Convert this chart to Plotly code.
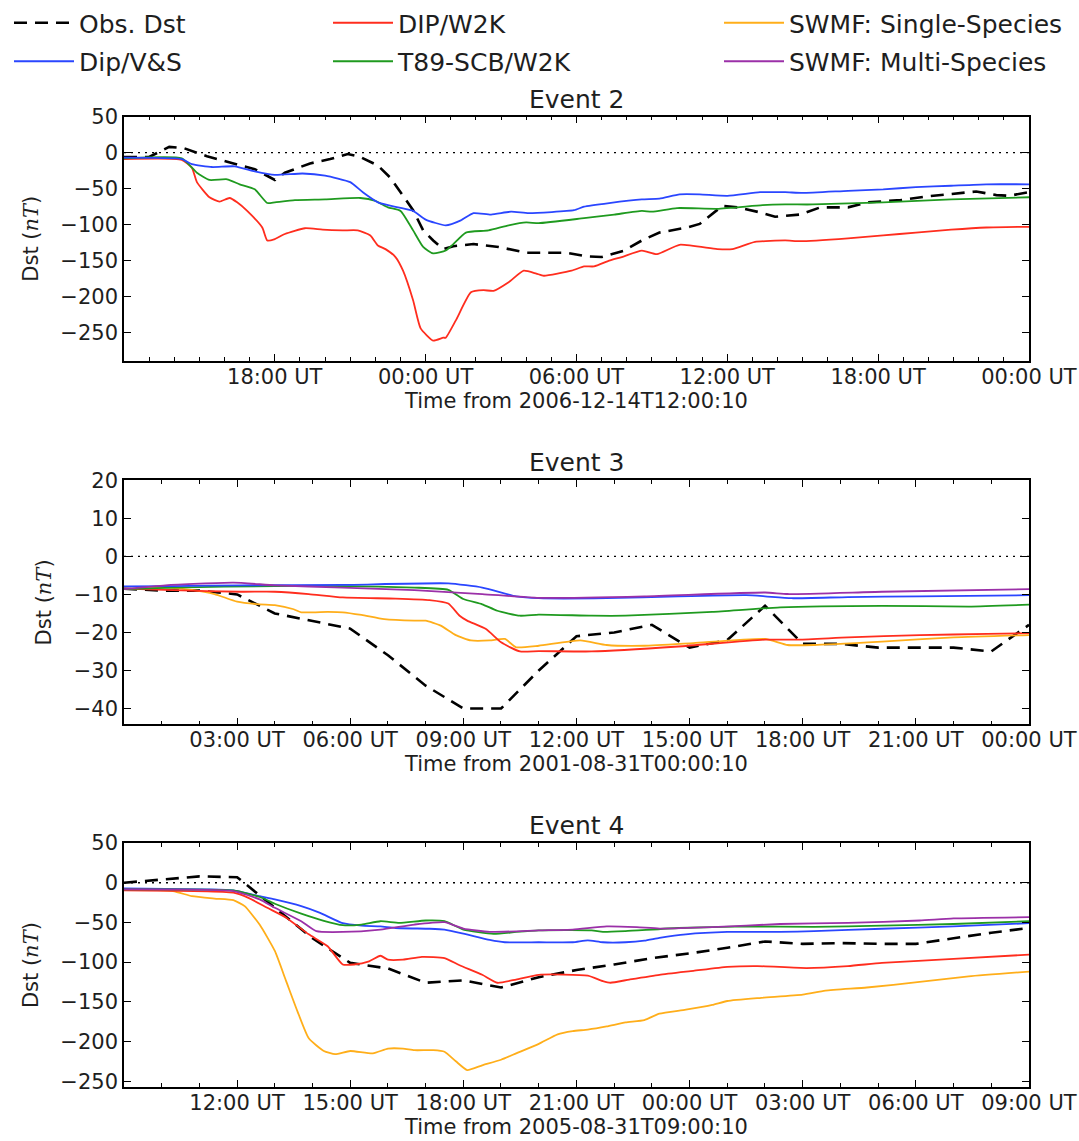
import pandas as pd
import plotly.graph_objects as go
from plotly.subplots import make_subplots

# ---------------- data (hours since event start, Dst in nT) ----------------
E2_START = "2006-12-14 12:00:10"
E3_START = "2001-08-31 00:00:10"
E4_START = "2005-08-31 09:00:10"
SPAN_HOURS = [36, 24, 24]
EVENT_TITLES = ["Event 2", "Event 3", "Event 4"]
X_TITLES = ["Time from 2006-12-14T12:00:10", "Time from 2001-08-31T00:00:10",
            "Time from 2005-08-31T09:00:10"]
Y_RANGES = [[-289, 50], [-44.2, 20], [-257.6, 50]]
Y_DTICKS = [50, 10, 50]
X_DTICKS_H = [6, 3, 3]

# Event 2
e2_obs_h = [0, 1, 1.8, 2.4, 3.3, 4.4, 5.2, 6.0, 6.4, 7.4, 8.2, 8.9, 9.4, 10.1, 10.6, 11.1, 11.5, 11.9,
            12.3, 12.7, 13.1, 13.9, 14.9, 16.0, 17.6, 18.4, 19.0, 19.9, 20.6, 21.3, 22.4, 22.9, 23.3,
            23.8, 24.4, 25.3, 25.9, 26.9, 27.7, 28.8, 29.6, 30.9, 31.9, 32.9, 33.9, 34.7, 35.2, 36]
e2_obs_v = [-6, -6, 8, 6, -5, -15, -23, -38, -28, -15, -9, -2, -6, -18, -35, -60, -80, -108,
            -122, -134, -130, -127, -131, -139, -139, -144, -145, -136, -122, -111, -104, -99, -88,
            -74, -76, -83, -89, -86, -76, -76, -69, -66, -61, -57, -54, -59, -60, -55]
e2_vs_h = [0, 2.3, 2.7, 3.5, 4.4, 5.2, 6.0, 7.1, 8.0, 9.0, 9.5, 10.1, 10.9, 11.5, 12.0, 12.8, 13.4,
           13.9, 14.6, 15.4, 16.1, 17.9, 18.3, 19.3, 20.6, 21.3, 22.1, 22.9, 24.0, 25.3, 26.3, 27.0,
           28.8, 30.2, 31.5, 32.9, 34.3, 36]
e2_vs_v = [-7, -9, -16, -20, -19, -26, -31, -29, -32, -41, -55, -69, -76, -81, -93, -101, -94,
           -84, -86, -82, -84, -80, -75, -70, -65, -64, -58, -58, -60, -55, -55, -56,
           -53, -51, -48, -46, -44, -44]
e2_t89_h = [0, 2.3, 2.9, 3.4, 4.1, 4.6, 5.2, 5.7, 6.0, 6.8, 8.0, 9.4, 10.0, 10.5, 11.0, 11.5, 11.9,
            12.3, 12.8, 13.1, 13.6, 14.5, 15.3, 16.0, 16.5, 18.3, 19.5, 20.6, 21.0, 22.0, 23.6,
            25.4, 26.3, 27.4, 30.2, 32.9, 36]
e2_t89_v = [-8, -8, -28, -38, -37, -44, -51, -70, -69, -66, -65, -63, -67, -76, -81, -108, -131,
            -140, -136, -127, -111, -108, -101, -97, -98, -91, -86, -81, -82, -77, -78,
            -73, -72, -72, -69, -65, -62]
e2_w2k_h = [0, 2.3, 2.7, 2.9, 3.4, 3.8, 4.2, 4.5, 4.9, 5.5, 5.7, 6.0, 6.4, 7.2, 7.9, 8.7, 9.3, 9.8,
            10.1, 10.4, 10.8, 11.1, 11.5, 11.8, 12.3, 12.7, 12.8, 13.2, 13.8, 14.3, 14.7, 15.3,
            15.9, 16.4, 16.7, 17.8, 18.3, 18.7, 19.3, 19.8, 20.6, 21.2, 22.1, 23.6, 24.2, 25.1,
            26.3, 26.9, 28.8, 30.2, 31.5, 32.9, 34.3, 36]
e2_w2k_v = [-9, -10, -21, -41, -62, -68, -63, -69, -81, -104, -122, -120, -113, -105, -107, -108,
            -108, -115, -129, -134, -145, -164, -205, -244, -261, -257, -257, -233, -194, -191,
            -192, -180, -164, -168, -171, -164, -158, -158, -150, -145, -136, -141, -128, -134,
            -134, -124, -122, -123, -119, -115, -111, -107, -104, -103]

# Event 3
e3_obs_h = list(range(25))
e3_obs_v = [-8.5, -9, -9, -10, -15, -17, -19, -26, -34, -40, -40, -30, -21, -20, -18, -24, -22,
            -13, -23, -23, -24, -24, -24, -25, -18]
e3_vs_h = [0, 1.3, 3.1, 5.8, 8.6, 9.5, 10.4, 11, 12.8, 14.7, 16.5, 17, 17.7, 19.2, 21.1, 24]
e3_vs_v = [-7.9, -7.8, -7.6, -7.5, -7.1, -8.2, -10.5, -11, -11, -10.5, -10.2, -10.5, -11, -10.7,
           -10.5, -10.2]
e3_multi_h = [0, 1.1, 2.9, 4, 5.8, 7.7, 9.5, 11, 13.8, 17, 17.6, 20.1, 24]
e3_multi_v = [-8.6, -7.6, -6.9, -7.6, -8.2, -8.9, -9.9, -10.9, -10.5, -9.5, -9.9, -9.3, -8.6]
e3_t89_h = [0, 1.3, 4, 5.8, 7.7, 8.6, 9.0, 9.5, 9.9, 10.5, 11, 12.4, 13.3, 15.6, 17.4, 20.1, 22.4, 24]
e3_t89_v = [-8.6, -8.2, -7.8, -7.8, -8.2, -8.8, -11.2, -12.6, -14.3, -15.6, -15.3, -15.6, -15.6,
            -14.6, -13.4, -13, -13.2, -12.7]
e3_w2k_h = [0, 1.3, 3.1, 4, 4.9, 5.8, 7.2, 8.1, 8.6, 8.9, 9.1, 9.6, 10, 10.5, 11, 12.4, 14.7, 17,
            17.9, 19.2, 21.1, 22.9, 24]
e3_w2k_v = [-8.5, -8.9, -9.3, -9.3, -9.9, -10.8, -11.1, -11.5, -12.4, -15.6, -16.9, -19.1, -22.6,
            -25, -24.9, -25, -23.7, -21.9, -21.9, -21.3, -20.7, -20.4, -20.2]
e3_single_h = [0, 1.1, 1.8, 2.4, 3, 3.6, 4, 4.5, 4.7, 5.4, 5.8, 6.3, 6.9, 7.7, 8, 8.4, 8.8, 9.2,
               9.7, 10.1, 10.4, 11, 12.1, 12.8, 13.8, 15.1, 17, 17.6, 18.3, 20.1, 22, 24]
e3_single_v = [-8.6, -8.2, -8.8, -9.9, -11.9, -12.6, -12.8, -13.9, -14.7, -14.6, -14.7, -15.4,
               -16.5, -16.9, -16.9, -18.2, -20.7, -22.1, -22.1, -21.7, -23.9, -23.5, -22.1, -23.3,
               -23.5, -22.8, -21.7, -23.3, -23.3, -22.4, -21.3, -20.7]

# Event 4
e4_obs_h = list(range(25))
e4_obs_v = [0, 4, 8, 7, -32, -70, -101, -108, -126, -123, -132, -119, -110, -103, -95, -89, -82,
            -74, -77, -76, -77, -77, -70, -63, -57]
e4_vs_h = [0, 2.2, 2.9, 3.6, 4, 4.7, 5.2, 5.8, 6.3, 6.8, 7.2, 8.1, 8.5, 9, 9.7, 10.1, 11, 11.9,
           12.3, 12.7, 13.3, 13.8, 14.2, 14.9, 16, 17.4, 18.3, 20.1, 22, 24]
e4_vs_v = [-7, -8.4, -9.7, -17, -21, -29.5, -38, -51, -54, -55, -57, -58, -59, -64, -72, -75, -75,
           -75, -72.5, -75, -75, -73, -69.5, -65, -62, -62, -61, -58, -55, -51]
e4_t89_h = [0, 2.9, 3.6, 4, 4.7, 5.3, 5.8, 6.3, 6.8, 7.3, 8, 8.5, 9, 9.8, 10.4, 11, 12.4, 12.7,
            13.3, 14.7, 16.5, 18.3, 20.1, 22, 24]
e4_t89_v = [-8.4, -9.7, -18, -26.5, -39, -48, -53.5, -52.7, -48.5, -50.6, -47.6, -48.5, -59, -64.5,
            -62, -60, -60, -62, -61, -57, -55, -55.6, -54, -52, -48.5]
e4_multi_h = [0, 2.9, 3.6, 4, 4.7, 5.1, 5.8, 6.8, 7.7, 8.5, 9, 9.7, 11, 11.9, 12.8, 13.6, 14.2,
              15.6, 17.4, 19.2, 21.1, 22, 24]
e4_multi_v = [-8.4, -10.5, -21, -31.6, -48.5, -61, -62, -59, -52.7, -49.7, -57.7, -62, -60, -59,
              -55, -56, -57.7, -56, -52, -50.6, -47.6, -45, -43.4]
e4_w2k_h = [0, 2.9, 3.3, 3.8, 4.3, 4.9, 5.4, 5.8, 6.1, 6.5, 6.8, 7.0, 7.4, 7.9, 8.5, 8.9, 9.5, 9.9,
            10.4, 11, 12.3, 12.7, 12.9, 13.4, 14.2, 15.1, 16, 16.8, 18.1, 19.2, 20.1, 22, 24]
e4_w2k_v = [-9.7, -12.6, -19, -31.6, -44, -65, -80, -103, -103, -99, -92, -97, -97, -93.5, -95,
            -104, -116, -126, -122, -116, -117, -124, -126, -122, -116, -111, -106, -105, -107.5,
            -105, -101, -96, -90.6]
e4_single_h = [0, 1.3, 1.8, 2.4, 2.9, 3.2, 3.6, 4, 4.3, 4.6, 4.9, 5.3, 5.6, 6, 6.6, 7, 7.4, 7.7,
               8.2, 8.5, 8.8, 9.1, 9.5, 10, 10.4, 11, 11.5, 11.9, 12.3, 12.8, 13.3, 13.8, 14.2,
               14.9, 15.6, 16, 16.9, 18, 18.6, 19.7, 21.1, 22.4, 24]
e4_single_v = [-8.4, -10.5, -17, -20, -22, -29.5, -53, -86, -124, -162, -196, -212, -216, -212,
               -215, -209, -209, -211, -211, -213, -225, -236, -230, -223, -215, -203, -191, -187,
               -185, -181, -176, -173, -165, -160, -154, -149, -145, -141, -136, -132, -125, -118,
               -112]

# ---------------- styles ----------------
FONT = "DejaVu Sans"
TXT = "#1e1e1e"
SERIES = {
    # key: (name, color, legend, rank)
    "obs": ("Obs. Dst", "black", "legend", 1),
    "vs": ("Dip/V&S", "#2a46ff", "legend", 2),
    "w2k": ("DIP/W2K", "#ff2d1e", "legend2", 1),
    "t89": ("T89-SCB/W2K", "#1f9a1f", "legend2", 2),
    "single": ("SWMF: Single-Species", "#ffae1a", "legend3", 1),
    "multi": ("SWMF: Multi-Species", "#9b30a8", "legend3", 2),
}

events = [
    (E2_START, [("obs", e2_obs_h, e2_obs_v), ("w2k", e2_w2k_h, e2_w2k_v),
                ("t89", e2_t89_h, e2_t89_v), ("vs", e2_vs_h, e2_vs_v)]),
    (E3_START, [("obs", e3_obs_h, e3_obs_v), ("single", e3_single_h, e3_single_v),
                ("w2k", e3_w2k_h, e3_w2k_v), ("t89", e3_t89_h, e3_t89_v),
                ("vs", e3_vs_h, e3_vs_v), ("multi", e3_multi_h, e3_multi_v)]),
    (E4_START, [("obs", e4_obs_h, e4_obs_v), ("single", e4_single_h, e4_single_v),
                ("w2k", e4_w2k_h, e4_w2k_v), ("vs", e4_vs_h, e4_vs_v),
                ("t89", e4_t89_h, e4_t89_v), ("multi", e4_multi_h, e4_multi_v)]),
]

W, H = 1079, 1141
fig = make_subplots(rows=3, cols=1)

# plot-area pixel boxes (top, bottom)
panel_px = [(113, 358), (478, 723), (842, 1087)]
x_left, x_right = 124, 1029

shown = set()
for i, (start, series) in enumerate(events):
    row = i + 1
    t0 = pd.Timestamp(start)
    for key, hh, vv in series:
        name, color, leg, rank = SERIES[key]
        x = t0 + pd.to_timedelta(hh, unit="h")
        show = key not in shown
        shown.add(key)
        if key == "obs":
            line = dict(color=color, width=2.6, dash="13px,8px")
        else:
            line = dict(color=color, width=1.8, shape="spline", smoothing=0.5)
        fig.add_trace(go.Scatter(x=x, y=vv, mode="lines", name=name, line=line,
                                 legend=leg, legendrank=rank, legendgroup=key,
                                 showlegend=show), row=row, col=1)
    fig.add_hline(y=0, line=dict(color="black", width=1.4, dash="2px,5px"), row=row, col=1)

    top, bot = panel_px[i]
    t_end = t0 + pd.Timedelta(hours=SPAN_HOURS[i])
    # major ticks: every X_DTICKS_H hours strictly after the start instant
    step = pd.Timedelta(hours=X_DTICKS_H[i])
    first = t0.floor(f"{X_DTICKS_H[i]}h")
    if first <= t0:
        first += step
    tickvals = []
    t = first
    while t <= t_end:
        tickvals.append(t)
        t += step
    ticktext = [tv.strftime("%H:%M UT") for tv in tickvals]

    xa = "xaxis" if i == 0 else f"xaxis{row}"
    ya = "yaxis" if i == 0 else f"yaxis{row}"
    fig.layout[xa].update(
        domain=[x_left / W, x_right / W],
        range=[t0.strftime("%Y-%m-%d %H:%M:%S"), t_end.strftime("%Y-%m-%d %H:%M:%S")],
        tickmode="array", tickvals=[tv.strftime("%Y-%m-%d %H:%M:%S") for tv in tickvals],
        ticktext=ticktext,
        ticks="inside", ticklen=7, tickwidth=1, tickcolor="black",
        minor=dict(dtick=3600000, tick0="2000-01-01", ticks="inside", ticklen=4, tickwidth=1,
                   tickcolor="black"),
        showline=True, linecolor="black", linewidth=1.6, mirror="ticks",
        showgrid=False, zeroline=False, ticklabelstandoff=-4,
        tickfont=dict(family=FONT, size=21, color=TXT),
        title=dict(text=X_TITLES[i], font=dict(family=FONT, size=21, color=TXT), standoff=2),
        automargin=False,
    )
    fig.layout[ya].update(
        domain=[1 - bot / H, 1 - top / H],
        range=Y_RANGES[i], dtick=Y_DTICKS[i], tick0=0,
        ticks="inside", ticklen=7, tickwidth=1, tickcolor="black",
        showline=True, linecolor="black", linewidth=1.6, mirror="ticks",
        showgrid=False, zeroline=False,
        tickfont=dict(family=FONT, size=21, color=TXT),
        title=dict(text="Dst (<i style='font-family:DejaVu Serif'>nT</i>)",
                   font=dict(family=FONT, size=21, color=TXT), standoff=16),
        automargin=False,
    )
    fig.add_annotation(text=EVENT_TITLES[i], xref="paper", yref="paper",
                       x=(x_left + x_right) / 2 / W, y=1 - (top - 1) / H,
                       xanchor="center", yanchor="bottom", showarrow=False,
                       font=dict(family=FONT, size=25, color=TXT))

legend_common = dict(orientation="v", yanchor="top", y=1 + 4 / H, xanchor="left",
                     bgcolor="rgba(0,0,0,0)", itemwidth=60, tracegroupgap=3,
                     font=dict(family=FONT, size=25, color=TXT))
fig.update_layout(
    width=W, height=H,
    margin=dict(l=0, r=0, t=0, b=0),
    paper_bgcolor="white", plot_bgcolor="white",
    legend=dict(x=9 / W, **legend_common),
    legend2=dict(x=328 / W, **legend_common),
    legend3=dict(x=719 / W, **legend_common),
)

fig.write_html("out.html")
